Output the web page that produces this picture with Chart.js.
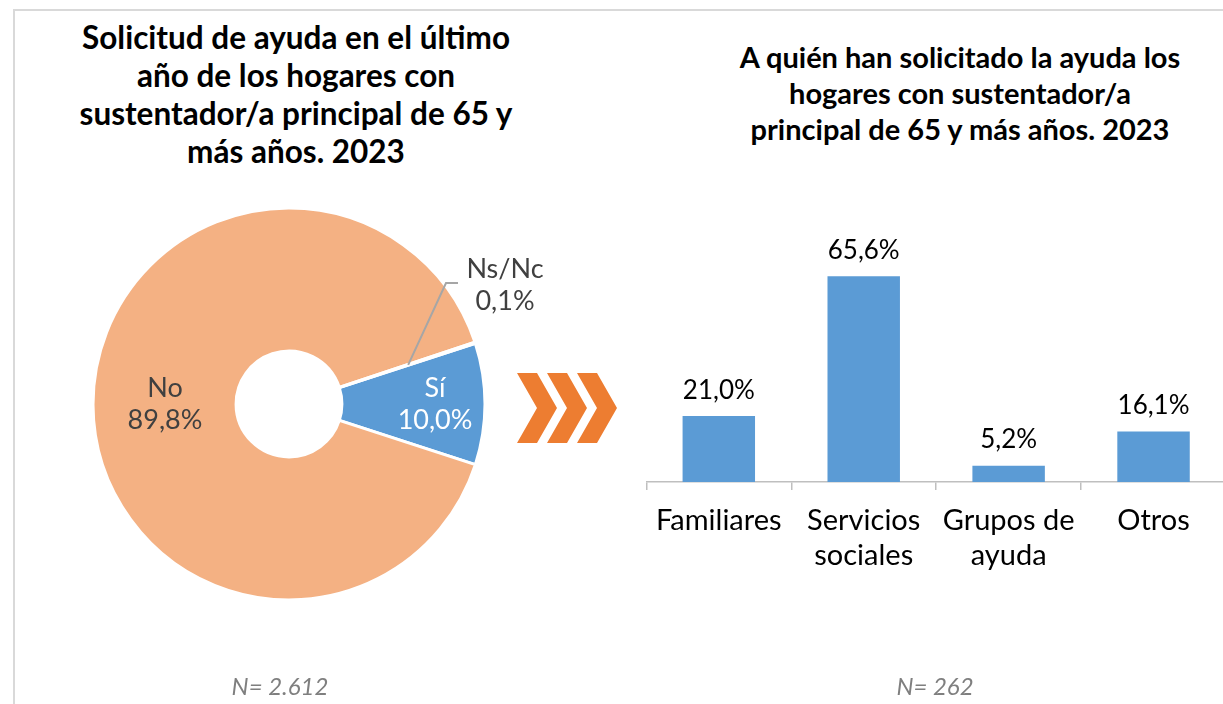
<!DOCTYPE html>
<html lang="es">
<head>
<meta charset="utf-8">
<title>Solicitud de ayuda 2023</title>
<script src="https://cdn.jsdelivr.net/npm/chart.js@4"></script>
<style>
    body { margin: 0; width: 1223px; height: 704px; overflow: hidden; background: #fff; position: relative; font-family: Lato, "Noto Sans", sans-serif; }
    .frame { position: absolute; left: 13px; top: 9px; width: 1260px; height: 760px; border-top: 2px solid #d9d9d9; border-left: 2px solid #d9d9d9; }
    .title { position: absolute; font-weight: 700; text-align: center; color: #000; white-space: nowrap; }
    #leftTitle { left: 16px; top: 18px; width: 560px; font-size: 31.5px; line-height: 38px; }
    #rightTitle { left: 690px; top: 39px; width: 540px; font-size: 29px; line-height: 36px; }
    .note { position: absolute; top: 673px; width: 200px; text-align: center; font-style: italic; font-size: 24px; line-height: 26px; color: #7f7f7f; }
    canvas { position: absolute; }
    #pieChart { left: 29px; top: 184px; }
    #barChart { left: 643px; top: 231px; }
    svg { position: absolute; left: 0; top: 0; }
</style>
</head>
<body>
<div class="frame"></div>
<div class="title" id="leftTitle">Solicitud de ayuda en el último<br>año de los hogares con<br>sustentador/a principal de 65 y<br>más años. 2023</div>
<div class="title" id="rightTitle">A quién han solicitado la ayuda los<br>hogares con sustentador/a<br>principal de 65 y más años. 2023</div>

<canvas id="pieChart" width="520" height="440"></canvas>
<canvas id="barChart" width="583" height="341"></canvas>

<svg width="1223" height="704">
    <g fill="#ed7d31">
        <path d="M517,373 L537,373 L557,408 L537,443 L517,443 L537,408 Z"/>
        <path d="M547,373 L567,373 L587,408 L567,443 L547,443 L567,408 Z"/>
        <path d="M577,373 L597,373 L617,408 L597,443 L577,443 L597,408 Z"/>
    </g>
</svg>

<div class="note" style="left:180px">N= 2.612</div>
<div class="note" style="left:835px">N= 262</div>

<script>
// left chart: did the household ask for help
const pieLabels = ['Sí', 'No', 'Ns/Nc'];
const pieValues = [10.0, 89.8, 0.1];
const pieColors = ['#5b9bd5', '#f4b183', '#a5a5a5'];

// right chart: who they asked
const barLabels = [['Familiares'], ['Servicios', 'sociales'], ['Grupos de', 'ayuda'], ['Otros']];
const barValues = [21.0, 65.6, 5.2, 16.1];

const fmt = v => v.toFixed(1).replace('.', ',') + '%';

Chart.defaults.font.family = 'Lato, "Noto Sans", sans-serif';

// labels inside / beside the doughnut slices
const pieLabelPlugin = {
    id: 'pieLabels',
    afterDatasetsDraw(chart) {
        const ctx = chart.ctx;
        const arcs = chart.getDatasetMeta(0).data;
        ctx.save();
        ctx.font = '27px Lato';
        ctx.textAlign = 'center';
        ctx.textBaseline = 'middle';
        arcs.forEach((arc, i) => {
            const p = arc.getProps(['x', 'y', 'startAngle', 'endAngle', 'outerRadius']);
            const mid = (p.startAngle + p.endAngle) / 2;
            const name = pieLabels[i];
            const val = fmt(pieValues[i]);
            if (name === 'Ns/Nc') {
                // leader line out to the label
                const r0 = p.outerRadius * 0.64;
                const sx = p.x + Math.cos(mid) * r0;
                const sy = p.y + Math.sin(mid) * r0;
                ctx.strokeStyle = '#a6a6a6';
                ctx.lineWidth = 2;
                ctx.beginPath();
                ctx.moveTo(sx, sy);
                ctx.lineTo(p.x + 157, p.y - 121);
                ctx.lineTo(p.x + 169, p.y - 121);
                ctx.stroke();
                ctx.fillStyle = '#404040';
                ctx.fillText(name, p.x + 216, p.y - 135);
                ctx.fillText(val, p.x + 216, p.y - 103);
            } else {
                const frac = name === 'Sí' ? 0.745 : 0.633;
                const lx = p.x + Math.cos(mid) * p.outerRadius * frac;
                const ly = p.y + Math.sin(mid) * p.outerRadius * frac;
                ctx.fillStyle = name === 'Sí' ? '#ffffff' : '#404040';
                ctx.fillText(name, lx, ly - 16);
                ctx.fillText(val, lx, ly + 16);
            }
        });
        ctx.restore();
    }
};

// value labels above bars
const barLabelPlugin = {
    id: 'barLabels',
    afterDatasetsDraw(chart) {
        const ctx = chart.ctx;
        ctx.save();
        ctx.font = '26px Lato';
        ctx.fillStyle = '#000';
        ctx.textAlign = 'center';
        ctx.textBaseline = 'middle';
        chart.getDatasetMeta(0).data.forEach((bar, i) => {
            ctx.fillText(fmt(barValues[i]), bar.x, bar.y - 26);
        });
        ctx.restore();
    }
};

new Chart(document.getElementById('pieChart'), {
    type: 'doughnut',
    data: {
        labels: pieLabels,
        datasets: [{
            data: pieValues,
            backgroundColor: pieColors,
            borderColor: '#ffffff',
            borderWidth: 3
        }]
    },
    options: {
        responsive: false,
        animation: false,
        rotation: 72,
        radius: 196,
        cutout: '27%',
        plugins: { legend: { display: false }, tooltip: { enabled: false } }
    },
    plugins: [pieLabelPlugin]
});

new Chart(document.getElementById('barChart'), {
    type: 'bar',
    data: {
        labels: barLabels,
        datasets: [{
            data: barValues,
            backgroundColor: '#5b9bd5',
            barPercentage: 0.5,
            categoryPercentage: 1
        }]
    },
    options: {
        responsive: false,
        animation: false,
        layout: { padding: 0 },
        plugins: { legend: { display: false }, tooltip: { enabled: false } },
        scales: {
            y: { display: false, min: 0, max: 80 },
            x: {
                grid: { offset: true, drawOnChartArea: false, drawTicks: true, tickLength: 8, color: '#bfbfbf', lineWidth: 1.5 },
                border: { display: true, color: '#bfbfbf', width: 1.5 },
                ticks: { color: '#000', padding: 13, font: { size: 29, lineHeight: 1.2 }, maxRotation: 0, autoSkip: false },
                afterFit(scale) { scale.height = 90; }
            }
        }
    },
    plugins: [barLabelPlugin]
});
</script>
</body>
</html>
